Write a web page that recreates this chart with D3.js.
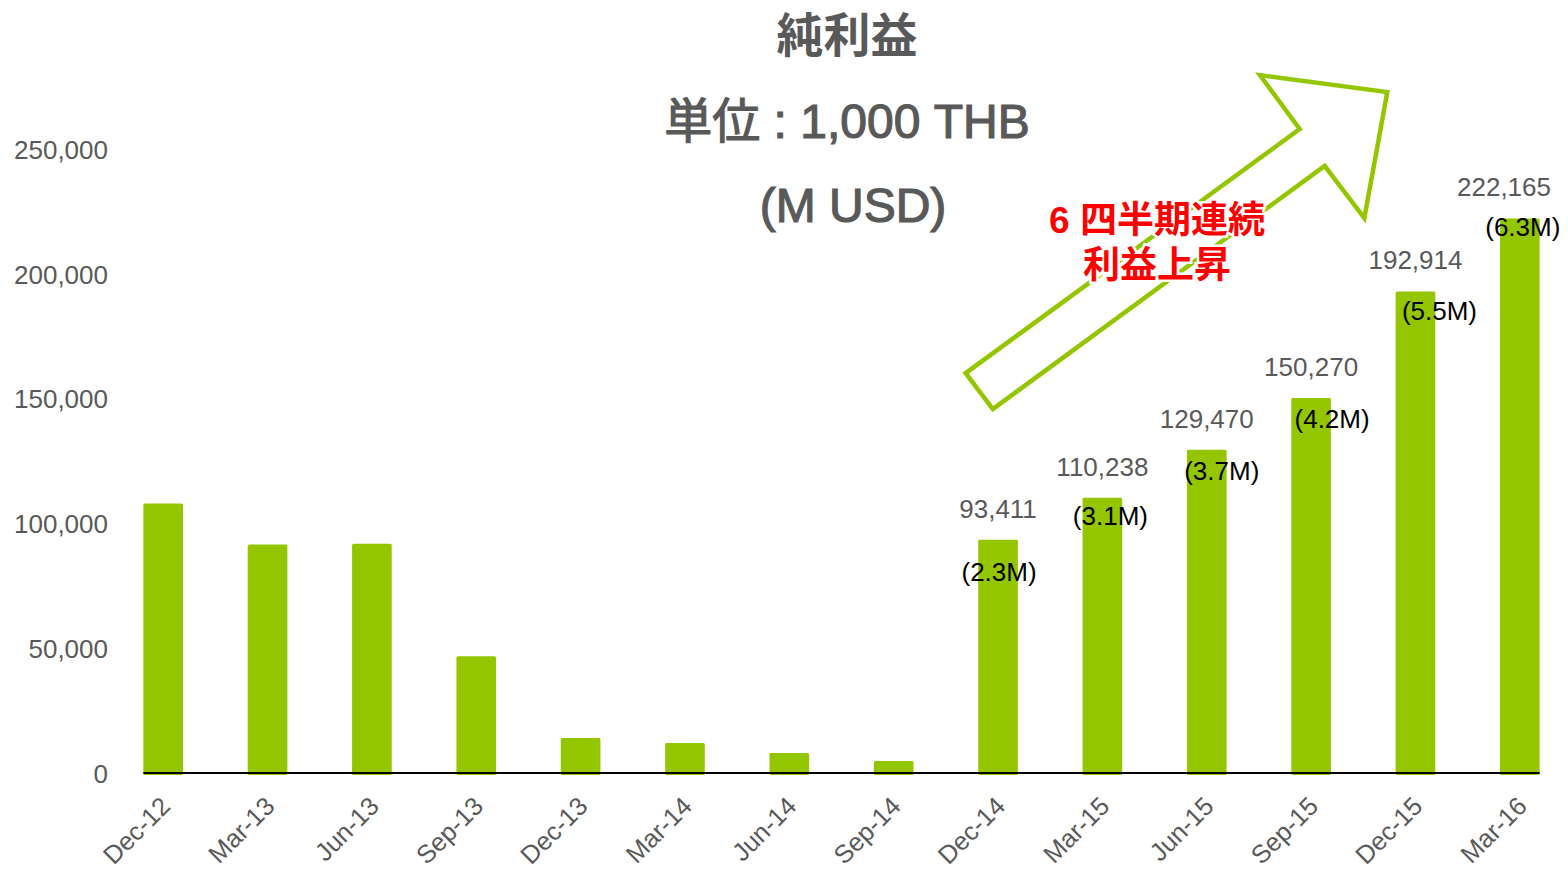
<!DOCTYPE html>
<html>
<head>
<meta charset="utf-8">
<script src="https://cdn.jsdelivr.net/npm/d3@7"></script>
<style>
  body { margin: 0; background: #fff; }
  svg { display: block; }
  text { font-family: "Liberation Sans", Arial, "Noto Sans CJK JP", sans-serif; }
</style>
</head>
<body>
<div id="chart"></div>
<script>
// data
var quarters = ["Dec-12", "Mar-13", "Jun-13", "Sep-13", "Dec-13", "Mar-14", "Jun-14",
                "Sep-14", "Dec-14", "Mar-15", "Jun-15", "Sep-15", "Dec-15", "Mar-16"];
var netProfit = [108000, 91500, 91800, 46800, 14000, 12000, 8000,
                 4800, 93411, 110238, 129470, 150270, 192914, 222165];
// labelled quarters (Dec-14 onward) and their USD figures
var labelledFrom = 8;
var usdLabels = ["(2.3M)", "(3.1M)", "(3.7M)", "(4.2M)", "(5.5M)", "(6.3M)"];
var yTicks = [0, 50000, 100000, 150000, 200000, 250000];
var titleLines = ["純利益", "単位 : 1,000 THB", "(M USD)"];
var noteLines = ["6 四半期連続", "利益上昇"];

// layout
var width = 1568, height = 874;
var green = "#94c600";
var grey = "#595959";
// small nudges for the USD labels, as placed in the original
var usdDx = [1, 8, 15, 21, 24, 3];
var usdDy = [41, 27, 30, 30, 29, 18];

var svg = d3.select("#chart").append("svg")
    .attr("width", width)
    .attr("height", height);

var x_scale = d3.scaleBand()
    .domain(quarters)
    .range([111, 1572])
    .paddingInner(0.62)
    .paddingOuter(0.31);

var y_scale = d3.scaleLinear()
    .domain([0, 250000])
    .range([773, 149]);

// y axis, labels only
var y_axis = d3.axisLeft(y_scale)
    .tickValues(yTicks)
    .tickSize(0)
    .tickPadding(0)
    .tickFormat(d3.format(","));

svg.append("g")
    .attr("transform", "translate(108,0)")
    .call(y_axis)
    .call(function(g) { g.select(".domain").remove(); })
    .selectAll("text")
    .attr("fill", grey)
    .style("font-size", "26px")
    .attr("dy", "0.36em");

// bars
svg.append("g").selectAll("rect")
    .data(quarters)
    .enter()
    .append("rect")
    .attr("x", function(d) { return x_scale(d); })
    .attr("y", function(d, i) { return y_scale(netProfit[i]); })
    .attr("width", x_scale.bandwidth())
    .attr("height", function(d, i) { return y_scale(0) - y_scale(netProfit[i]) + 2; })
    .attr("rx", 1.5)
    .attr("fill", green);

// baseline
svg.append("line")
    .attr("x1", x_scale(quarters[0]))
    .attr("x2", x_scale(quarters[quarters.length - 1]) + x_scale.bandwidth())
    .attr("y1", y_scale(0))
    .attr("y2", y_scale(0))
    .attr("stroke", "#000")
    .attr("stroke-width", 2);

// x labels
svg.append("g").selectAll("text")
    .data(quarters)
    .enter()
    .append("text")
    .attr("transform", function(d) {
        var cx = x_scale(d) + x_scale.bandwidth() / 2 - 4;
        return "translate(" + cx + ",795) rotate(-45)";
    })
    .attr("text-anchor", "end")
    .attr("dy", "0.7em")
    .attr("fill", grey)
    .style("font-size", "25.5px")
    .text(function(d) { return d; });

// value labels
var labelled = quarters.slice(labelledFrom);
function barCenter(d) { return x_scale(d) + x_scale.bandwidth() / 2; }

svg.append("g").selectAll("text")
    .data(labelled)
    .enter()
    .append("text")
    .attr("x", function(d) { return Math.min(barCenter(d), width - 64); })
    .attr("y", function(d, i) { return y_scale(netProfit[labelledFrom + i]) - 22; })
    .attr("text-anchor", "middle")
    .attr("fill", grey)
    .style("font-size", "26px")
    .text(function(d, i) { return d3.format(",")(netProfit[labelledFrom + i]); });

svg.append("g").selectAll("text")
    .data(labelled)
    .enter()
    .append("text")
    .attr("x", function(d, i) { return barCenter(d) + usdDx[i]; })
    .attr("y", function(d, i) { return y_scale(netProfit[labelledFrom + i]) + usdDy[i]; })
    .attr("text-anchor", "middle")
    .attr("fill", "#000")
    .style("font-size", "26px")
    .text(function(d, i) { return usdLabels[i]; });

// the "rising" arrow, placed in chart units (bar index, value)
var x_index = d3.scaleLinear()
    .domain([0, quarters.length - 1])
    .range([barCenter(quarters[0]), barCenter(quarters[quarters.length - 1])]);

var arrowPoints = [
    [7.69, 160200], [10.89, 258000], [10.51, 279600], [11.73, 272800],
    [11.51, 222300], [11.13, 243200], [7.95, 145800]
];

svg.append("path")
    .datum(arrowPoints)
    .attr("d", d3.line()
        .x(function(d) { return x_index(d[0]); })
        .y(function(d) { return y_scale(d[1]); })
        .curve(d3.curveLinearClosed))
    .attr("fill", "none")
    .attr("stroke", green)
    .attr("stroke-width", 4.5)
    .attr("stroke-linejoin", "miter");

// note text
svg.append("g").selectAll("text")
    .data(noteLines)
    .enter()
    .append("text")
    .attr("x", 1157)
    .attr("y", function(d, i) { return 233 + i * 45; })
    .attr("text-anchor", "middle")
    .attr("fill", "#ff0000")
    .attr("stroke", "#fff")
    .attr("stroke-width", 5)
    .attr("paint-order", "stroke")
    .style("font-size", "37px")
    .style("font-weight", "bold")
    .text(function(d) { return d; });

// title
svg.append("g").selectAll("text")
    .data(titleLines)
    .enter()
    .append("text")
    .attr("x", function(d, i) { return [847, 847, 853][i]; })
    .attr("y", function(d, i) { return [52, 138, 222][i]; })
    .attr("text-anchor", "middle")
    .attr("fill", grey)
    .attr("stroke", function(d, i) { return i === 0 ? "none" : grey; })
    .attr("stroke-width", 1.2)
    .style("font-size", function(d, i) { return i === 0 ? "47px" : "48px"; })
    .style("font-weight", function(d, i) { return i === 0 ? "bold" : "normal"; })
    .text(function(d) { return d; });
</script>
</body>
</html>
